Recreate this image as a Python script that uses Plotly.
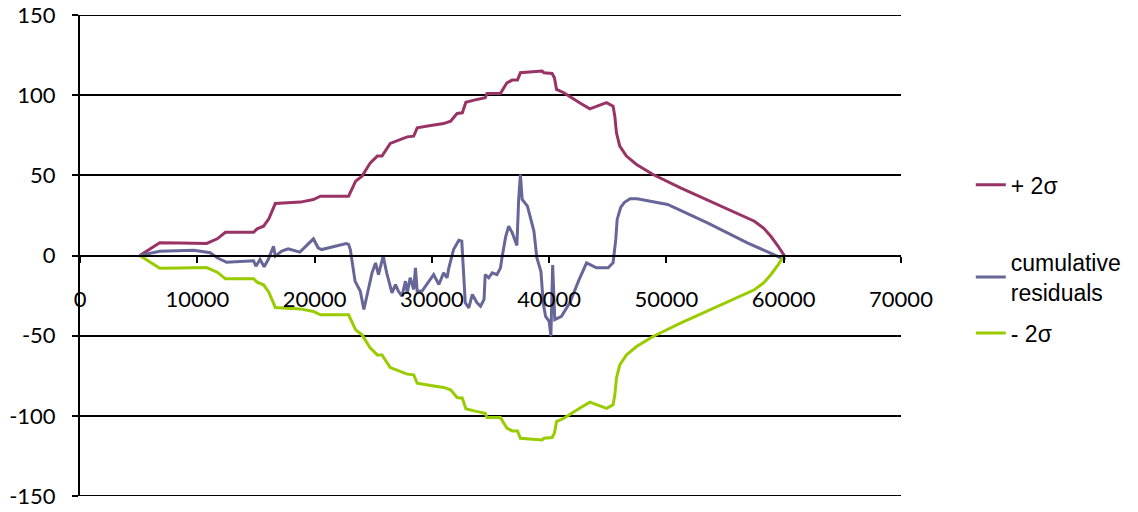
import plotly.graph_objects as go

# ---- data ----
sigma_x = [5100, 6800, 8500, 10800, 11700, 12400, 14800, 15100, 15650, 16100, 16650, 18800, 19900,
           20500, 22900, 23500, 24050, 24750, 25350, 25750, 26450, 27450, 27900, 28450, 28750, 29900,
           31000, 31600, 32150, 32600, 32900, 33600, 34550, 34700, 35850, 36400, 36850, 37300, 37550,
           39400, 39550, 40250, 40450, 40630, 41250, 42700, 43470, 44890, 45450, 45600, 45740, 46020,
           46590, 47450, 48860, 51200, 54050, 57500, 58300, 58900, 59500, 60050]
plus_2sigma = [0, 7.9, 7.8, 7.5, 10.4, 14.5, 14.5, 16.6, 18.3, 22.9, 32.4, 33.3, 34.9,
               37, 37, 46.4, 49.5, 57.8, 62, 62, 69.9, 72.4, 74, 74.4, 79.6, 81.1,
               82.3, 83.8, 88.6, 89, 95.6, 96.9, 98.4, 101.1, 101.1, 107.7, 109.4, 109.4, 114,
               115, 114, 113.5, 110.8, 103.6, 101.5, 94.8, 91.5, 95.3, 93.1, 86.9, 76.5, 68.2,
               62, 56.8, 50.5, 42.2, 32.9, 21.4, 17, 12, 6, 0]
minus_2sigma = [0, -7.9, -7.8, -7.5, -10.4, -14.5, -14.5, -16.6, -18.3, -22.9, -32.4, -33.3, -34.9,
                -37, -37, -46.4, -49.5, -57.8, -62, -62, -69.9, -72.4, -74, -74.4, -79.6, -81.1,
                -82.3, -83.8, -88.6, -89, -95.6, -96.9, -98.4, -101.1, -101.1, -107.7, -109.4, -109.4, -114,
                -115, -114, -113.5, -110.8, -103.6, -101.5, -94.8, -91.5, -95.3, -93.1, -86.9, -76.5, -68.2,
                -62, -56.8, -50.5, -42.2, -32.9, -21.4, -17, -12, -6, 0]

resid_x = [5100, 6800, 9700, 11100, 11700, 12500, 14800, 15000, 15350, 15700, 16050, 16500, 16650,
           17200, 17750, 18750, 19900, 20300, 20600, 22700, 22900, 23050, 23450, 23900, 24200, 24900,
           25200, 25450, 25850, 26150, 26600, 26900, 27150, 27450, 27750, 27900, 28150, 28450, 28600,
           28750, 29150, 29750, 30150, 30600, 31000, 31300, 31450, 31850, 32300, 32550, 32850, 33150,
           33450, 33850, 34150, 34450, 34550, 34850, 35150, 35550, 35850, 36000, 36300, 36550, 36850,
           37250, 37400, 37550, 37700, 38150, 38700, 38950, 39300, 39500, 39700, 40000, 40150, 40300,
           40480, 41050, 41760, 42500, 43190, 44030, 45030, 45450, 45680, 45800, 46100, 46400, 46900,
           47500, 50100, 53500, 56900, 59750, 60150]
cumulative_residuals = [0, 2.7, 3.3, 1.7, -1.4, -4.2, -3.3, -6.7, -2.5, -7, -2.5, 5.8, -0.4,
                        2.7, 4.2, 2.1, 10.4, 4.8, 3.7, 7.5, 6.9, 3.7, -16, -22.3, -33.7, -10.8,
                        -4.6, -11.9, -0.4, -10.8, -23.3, -18.1, -22.3, -25.4, -16, -23.3, -13.9, -21.2, -7.7,
                        -22.3, -22.3, -16, -11.9, -18.1, -10.8, -13.9, -7.7, 3.7, 9.5, 8.9, -29.5, -32.6,
                        -24.3, -29.5, -31.6, -27.4, -11.9, -13.9, -10.8, -11.9, -7.7, -0.4, 12, 18.3, 14.2,
                        6.2, 34.9, 50.5, 34.9, 30.8, 15.2, -1.4, -10, -30, -38, -41, -50.3, -6,
                        -40, -37.9, -29.5, -16, -4.6, -7.7, -7.7, -4.6, 9.9, 22.5, 30, 33, 35.4,
                        35.4, 31.8, 20.4, 7.9, -1.4, -2.5]

x_ticks = [0, 10000, 20000, 30000, 40000, 50000, 60000, 70000]
y_ticks = [-150, -100, -50, 0, 50, 100, 150]

fig = go.Figure()
fig.add_trace(go.Scatter(x=sigma_x, y=plus_2sigma, mode="lines", name="+ 2σ",
                         line=dict(color="#993366", width=3), legend="legend"))
fig.add_trace(go.Scatter(x=resid_x, y=cumulative_residuals, mode="lines",
                         name="cumulative<br>residuals",
                         line=dict(color="#666699", width=3), legend="legend2"))
fig.add_trace(go.Scatter(x=sigma_x, y=minus_2sigma, mode="lines", name="- 2σ",
                         line=dict(color="#99CC00", width=3), legend="legend3"))

# frame lines at the top and bottom of the value range (edge gridlines)
for yv in (y_ticks[0], y_ticks[-1]):
    fig.add_shape(type="line", xref="paper", yref="y", x0=0, x1=1, y0=yv, y1=yv,
                  line=dict(color="black", width=2), layer="below")

leg_common = dict(xanchor="left", yanchor="middle", bgcolor="rgba(0,0,0,0)",
                  font=dict(family="Liberation Sans, Arial, sans-serif", size=23, color="black"),
                  itemwidth=30)
fig.update_layout(
    width=1138, height=512,
    margin=dict(l=80, r=237, t=15, b=16, autoexpand=False),
    paper_bgcolor="white", plot_bgcolor="white",
    showlegend=True,
    legend=dict(x=1.085, y=0.647, **leg_common),
    legend2=dict(x=1.085, y=0.455, **leg_common),
    legend3=dict(x=1.085, y=0.339, **leg_common),
    xaxis=dict(range=[0, 70000], tickvals=x_ticks, ticktext=[str(v) for v in x_ticks],
               showgrid=False, zeroline=False, showline=True, linecolor="black", linewidth=2,
               anchor="free", position=0.5, ticks="outside", ticklen=6, tickwidth=2,
               tickcolor="black", ticklabelstandoff=18, automargin=False,
               ticklabeloverflow="allow",
               tickfont=dict(family="Lato, sans-serif", size=22, color="black")),
    yaxis=dict(range=[-150, 150], tickvals=y_ticks, ticktext=[str(v) for v in y_ticks],
               showgrid=True, gridcolor="black", gridwidth=2, zeroline=False,
               showline=True, linecolor="black", linewidth=2, automargin=False,
               ticks="outside", ticklen=6, tickwidth=2, tickcolor="black", ticklabelstandoff=12,
               ticklabeloverflow="allow",
               tickfont=dict(family="Lato, sans-serif", size=22, color="black")),
)

# remove the default page margin so the 1138x512 figure fills the window exactly
fig.write_html("out.html", config={"displayModeBar": False},
               post_script="document.body.style.margin='0';document.body.style.overflow='hidden';")
